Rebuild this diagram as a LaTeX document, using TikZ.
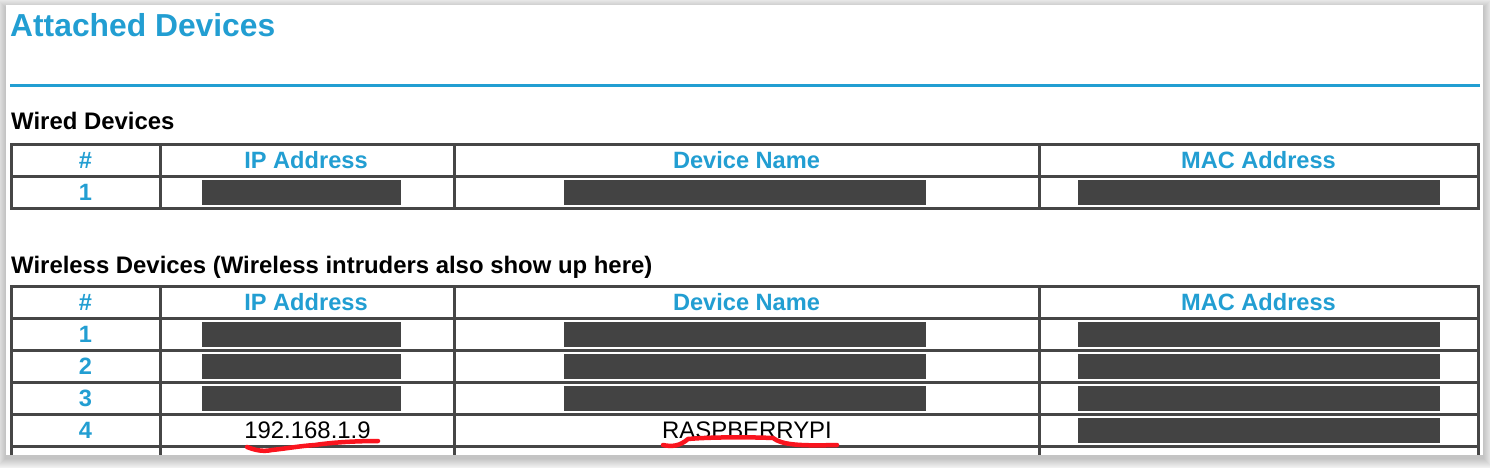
\documentclass[tikz,border=0pt]{standalone}
\usepackage{fontspec}
\setmainfont{Liberation Sans}
\definecolor{hdblue}{RGB}{34,158,210}
\definecolor{gridgray}{RGB}{70,70,70}
\definecolor{redact}{RGB}{67,67,67}
\definecolor{penred}{RGB}{250,20,30}
\tikzset{
  hdr/.style={text=hdblue,font=\bfseries\fontsize{23.6}{26}\selectfont,anchor=base,inner sep=0pt},
  ttl/.style={text=hdblue,font=\bfseries\fontsize{31.8}{34}\selectfont,anchor=base west,inner sep=0pt},
  sec/.style={text=black,font=\bfseries\fontsize{23.9}{26}\selectfont,anchor=base west,inner sep=0pt},
  val/.style={text=black,font=\fontsize{23.9}{26}\selectfont,anchor=base,inner sep=0pt},
  gridline/.style={draw=gridgray,line width=3pt},
  bar/.style={fill=redact},
  pen/.style={draw=penred,line width=4.5pt,line cap=round,line join=round}
}
\begin{document}
\begin{tikzpicture}[x=1pt,y=-1pt]
\useasboundingbox (0,0) rectangle (1490,468);
\fill[white] (0,0) rectangle (1490,468);
% drop shadow
\foreach \i in {12,11,...,1}{
  \fill[black,opacity=0.018] (6-\i,5-\i+3) rectangle (1483+\i,455+\i+3);
}
\fill[white] (6,5) rectangle (1483,455);
% title
\node[ttl] (title) at (10,37) {Attached Devices};
\draw[draw=hdblue,line width=3pt] (10,86) -- (1480,86);
% wired
\node[sec] (wired) at (11,130) {Wired Devices};
\draw[gridline] (11.5,144) rectangle (1478,208);
\draw[gridline] (11.5,176) -- (1478,176);
\foreach \x in {160,454,1039}{\draw[gridline] (\x,144) -- (\x,208);}
\node[hdr] (wh1) at (85.5,168) {\#};
\node[hdr] (wh2) at (306,168) {IP Address};
\node[hdr] (wh3) at (746.5,168) {Device Name};
\node[hdr] (wh4) at (1258.5,168) {MAC Address};
\node[hdr] (wr1) at (85.5,200) {1};
\fill[bar] (202,180) rectangle (401,205);
\fill[bar] (564,180) rectangle (926,205);
\fill[bar] (1078,180) rectangle (1440,205);
% wireless
\node[sec] (wireless) at (11,273) {Wireless Devices (Wireless intruders also show up here)};
\draw[gridline] (11.5,455) -- (11.5,286) -- (1478,286) -- (1478,455);
\foreach \y in {318,350,382,414,446}{\draw[gridline] (11.5,\y) -- (1478,\y);}
\foreach \x in {160,454,1039}{\draw[gridline] (\x,286) -- (\x,455);}
\node[hdr] (lh1) at (85.5,310) {\#};
\node[hdr] (lh2) at (306,310) {IP Address};
\node[hdr] (lh3) at (746.5,310) {Device Name};
\node[hdr] (lh4) at (1258.5,310) {MAC Address};
\node[hdr] (lr1) at (85.5,342) {1};
\node[hdr] (lr2) at (85.5,374) {2};
\node[hdr] (lr3) at (85.5,406) {3};
\node[hdr] (lr4) at (85.5,438) {4};
\foreach \y in {322,354,386}{
  \fill[bar] (202,\y) rectangle (401,\y+25);
  \fill[bar] (564,\y) rectangle (926,\y+25);
  \fill[bar] (1078,\y) rectangle (1440,\y+25);
}
\fill[bar] (1078,418) rectangle (1440,443);
\node[val] (ip) at (307.5,438) {192.168.1.9};
\node[val] (dev) at (747,438) {RASPBERRYPI};
% red pen underlines
\draw[pen] (247,447) .. controls (255,450) and (262,452) .. (272,450)
  .. controls (290,448) and (300,446) .. (315,445)
  .. controls (335,442) and (360,441) .. (378,441);
\draw[pen] (663,445) .. controls (672,447) and (680,446) .. (688,439)
  .. controls (710,437) and (750,437) .. (773,438)
  .. controls (782,445) and (800,446) .. (837,445);
\end{tikzpicture}
\end{document}
